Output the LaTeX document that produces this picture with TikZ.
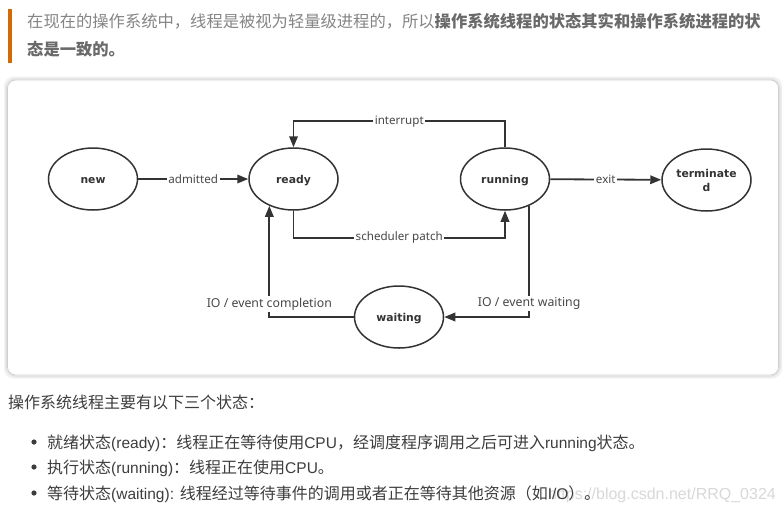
\documentclass[tikz,border=0pt]{standalone}
\usepackage{fontspec}
\usetikzlibrary{shapes.geometric,arrows.meta}
\setmainfont{Liberation Sans}
\newfontfamily\cjk{Noto Sans CJK SC}
\newfontfamily\dvs{DejaVu Sans}
\newfontfamily\nts{Noto Sans}
\newfontfamily\lat{Liberation Sans}
\newcommand{\ltn}[1]{{\lat\fontsize{15.5}{18}\selectfont #1}}
\definecolor{orangebar}{HTML}{D4690A}
\definecolor{quotegray}{HTML}{858585}
\definecolor{quotebold}{HTML}{6A6A6A}
\definecolor{bodytext}{HTML}{3D3D3D}
\definecolor{linegray}{HTML}{333333}
\definecolor{labelgray}{HTML}{474747}
\definecolor{wmgray}{HTML}{D8D8D8}
\definecolor{panelborder}{HTML}{D0D0D0}
\begin{document}
\begin{tikzpicture}[x=1pt,y=-1pt,
  state/.style={ellipse, draw=linegray, line width=1.5pt, fill=white,
    minimum width=89pt, minimum height=62pt, inner sep=0pt, text=linegray,
    font=\dvs\bfseries\fontsize{10.8}{14}\selectfont, align=center},
  onel/.style={text height=8pt, text depth=0pt},
  conn/.style={draw=linegray, line width=1.8pt, -{Triangle[length=11pt,width=8.5pt]}},
  elabel/.style={fill=white, inner sep=1.5pt, text=labelgray,
    font=\nts\fontsize{11.6}{14}\selectfont},
  elabelb/.style={elabel, font=\nts\fontsize{12.3}{14}\selectfont},
  quote/.style={anchor=base west, inner sep=0pt, text=quotegray,
    font=\cjk\fontsize{16.3}{20}\selectfont},
  body/.style={anchor=base west, inner sep=0pt, text=bodytext,
    font=\cjk\fontsize{16}{20}\selectfont},
  bulletdot/.style={fill=bodytext}
]
\useasboundingbox (0,0) rectangle (784,515);
\fill[white] (0,0) rectangle (784,515);

% quote block
\fill[orangebar] (8,9) rectangle (12,63);
\node[quote] (q1) at (27,27) {在现在的操作系统中，线程是被视为轻量级进程的，所以{\color{quotebold}\bfseries 操作系统线程的状态其实和操作系统进程的状}};
\node[quote, text=quotebold] (q2) at (27,55) {\bfseries 态是一致的。};

% panel with soft shadow
\foreach \s/\o in {3/0.05,2/0.08,1/0.12}{
  \draw[black, opacity=\o, line width=1pt, rounded corners=9pt]
    (7.5-\s,80-\s) rectangle (778.5+\s,375+\s);
}
\draw[fill=white, draw=panelborder, line width=0.8pt, rounded corners=8pt]
  (7.5,80) rectangle (778.5,375);

% states
\node[state, onel] (new) at (93,179) {new};
\node[state, onel] (ready) at (293.5,179) {ready};
\node[state, onel] (running) at (505,179) {running};
\node[state] (term) at (706.5,180) {terminate\\d};
\node[state, onel] (waiting) at (399,317) {waiting};

% transitions
\draw[conn] (new) -- node[elabel] {admitted} (ready);
\draw[conn] (running.north) -- ++(0,-26) -| node[elabel, pos=0.25] {interrupt} (ready.north);
\draw[conn] (ready.south) -- ++(0,27) -| node[elabel, pos=0.25] {scheduler patch} (running.south);
\draw[conn] (running) -- node[elabel] {exit} (term);
\draw[conn] (running.-48.5) |- node[elabelb, pos=0.44] {IO / event waiting} (waiting.east);
\draw[conn] (waiting.west) -| node[elabelb, pos=0.558] {IO / event completion} (ready.-132.2);

% body text
\node[body] (h) at (8,408) {操作系统线程主要有以下三个状态：};
\node[anchor=base east, inner sep=0pt, text=wmgray, font=\lat\fontsize{16}{20}\selectfont] (wm) at (776,499) {https://blog.csdn.net/RRQ\_0324};
\fill[bulletdot] (34,442) circle (2.6);
\fill[bulletdot] (34,467) circle (2.6);
\fill[bulletdot] (34,493) circle (2.6);
\node[body] (b1) at (47,448) {就绪状态\ltn{(ready)}：线程正在等待使用\ltn{CPU}，经调度程序调用之后可进入\ltn{running}状态。};
\node[body] (b2) at (47,473) {执行状态\ltn{(running)}：线程正在使用\ltn{CPU}。};
\node[body] (b3) at (47,499) {等待状态\ltn{(waiting): }线程经过等待事件的调用或者正在等待其他资源（如\ltn{I/O}）。};
\end{tikzpicture}
\end{document}
